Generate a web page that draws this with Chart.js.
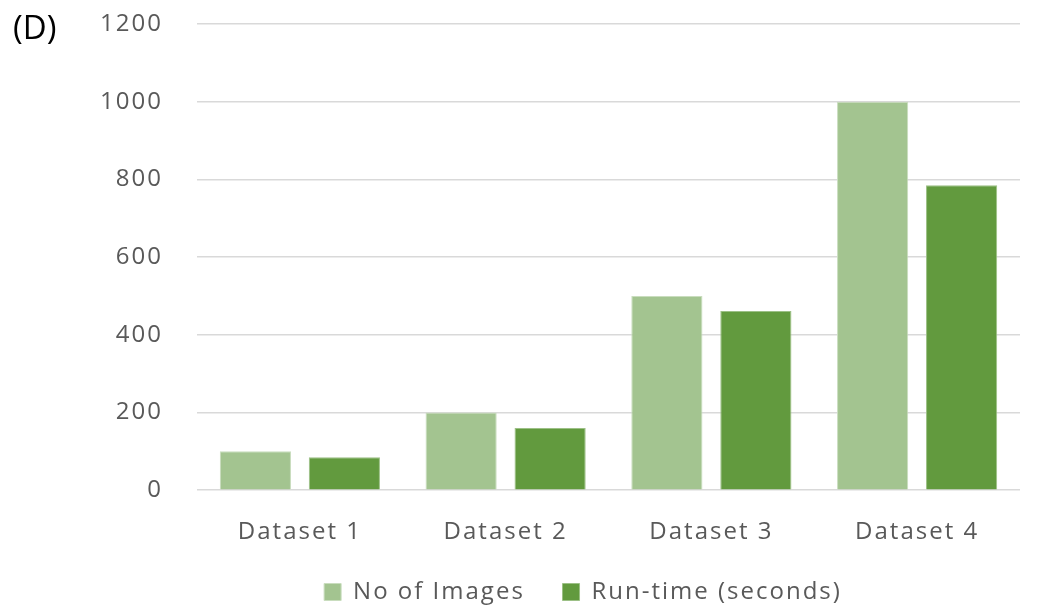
<!DOCTYPE html>
<html>
<head>
<meta charset="utf-8">
<script src="https://cdn.jsdelivr.net/npm/chart.js"></script>
<style>
  html, body { margin: 0; padding: 0; background: #fff; }
  #wrap { position: relative; width: 1044px; height: 608px; }
  #label { position: absolute; left: 13px; top: 4px; font-family: "Open Sans", sans-serif; font-size: 33px; color: #000; }
</style>
</head>
<body>
<div id="wrap">
  <canvas id="chart" width="1044" height="608"></canvas>
  <div id="label">(D)</div>
</div>
<script>
const categories = ["Dataset 1", "Dataset 2", "Dataset 3", "Dataset 4"];
const noOfImages = [100, 200, 500, 1000];
const runTime = [85, 160, 461, 785];
const yTicks = [0, 200, 400, 600, 800, 1000, 1200];

const textColor = "#595959";
const police = "Open Sans";

const canvas = document.getElementById("chart");

// un peu d'espacement entre les lettres, comme dans l'original
const espacement = {
  id: "espacement",
  beforeLayout: function (chart) { chart.ctx.letterSpacing = "2px"; },
  beforeDraw: function (chart) { chart.ctx.letterSpacing = "2px"; }
};

// la légende de l'original est un peu décalée vers la droite
const decalageLegende = {
  id: "decalageLegende",
  afterLayout: function (chart) {
    chart.legend.left += 73;
    chart.legend.right += 73;
  }
};

const config = {
  type: "bar",
  data: {
    labels: categories,
    datasets: [
      {
        label: "No of Images",
        data: noOfImages,
        backgroundColor: "#A3C490",
        borderColor: "#C9DDBE",
        borderWidth: 1,
        barPercentage: 0.8,
        categoryPercentage: 0.865
      },
      {
        label: "Run-time (seconds)",
        data: runTime,
        backgroundColor: "#629A3E",
        borderColor: "#9CC086",
        borderWidth: 1,
        barPercentage: 0.8,
        categoryPercentage: 0.865
      }
    ]
  },
  options: {
    responsive: false,
    animation: false,
    layout: {
      padding: { left: 0, right: 24, top: 24, bottom: -6 }
    },
    scales: {
      x: {
        grid: { display: false },
        border: { display: false },
        ticks: {
          color: textColor,
          padding: 20,
          font: { family: police, size: 24 }
        }
      },
      y: {
        min: 0,
        max: 1200,
        afterBuildTicks: function (scale) {
          scale.ticks = yTicks.map(v => ({ value: v }));
        },
        afterFit: function (scale) {
          scale.width = 197;
        },
        grid: {
          color: "#D9D9D9",
          lineWidth: 1.5,
          drawTicks: true,
          tickLength: 34,
          tickColor: "rgba(0,0,0,0)"
        },
        border: { display: false },
        ticks: {
          color: textColor,
          padding: 0,
          font: { family: police, size: 24 },
          callback: function (v) { return String(v); }
        }
      }
    },
    plugins: {
      legend: {
        position: "bottom",
        labels: {
          color: textColor,
          boxWidth: 17,
          boxHeight: 17,
          padding: 13,
          font: { family: police, size: 24 },
          generateLabels: function (chart) {
            const items = Chart.defaults.plugins.legend.labels.generateLabels(chart);
            // écart plus large entre les deux éléments de la légende
            items[0].text = items[0].text + "   ";
            return items;
          }
        }
      },
      tooltip: { enabled: false }
    }
  },
  plugins: [espacement, decalageLegende]
};

const myChart = new Chart(canvas, config);
</script>
</body>
</html>
